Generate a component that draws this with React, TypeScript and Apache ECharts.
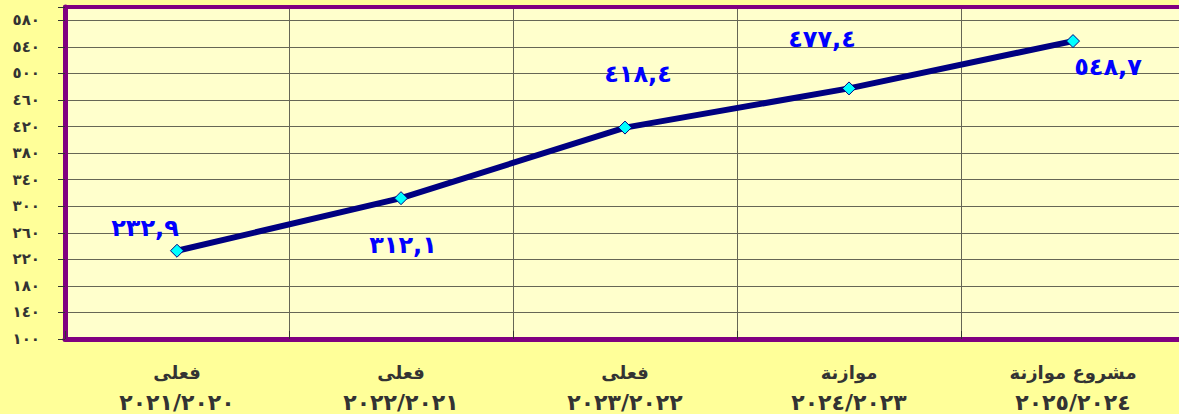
import React, { useEffect, useRef } from "react";
import * as echarts from "echarts";

const categoryNames = ["فعلى", "فعلى", "فعلى", "موازنة", "مشروع موازنة"];
const categoryYears = ["٢٠٢١/٢٠٢٠", "٢٠٢٢/٢٠٢١", "٢٠٢٣/٢٠٢٢", "٢٠٢٤/٢٠٢٣", "٢٠٢٥/٢٠٢٤"];
const seriesValues = [232.9, 312.1, 418.4, 477.4, 548.7];
const yMin = 100;
const yMax = 600;
const yInterval = 40;

const AR_DIGITS = ["٠", "١", "٢", "٣", "٤", "٥", "٦", "٧", "٨", "٩"];
const toArabic = (s: string) => s.replace(/[0-9]/g, (d) => AR_DIGITS[Number(d)]).replace(".", ",");

export default function App() {
  const ref = useRef<HTMLDivElement>(null);
  useEffect(() => {
    if (!ref.current) return;
    const chart = echarts.init(ref.current, undefined, { renderer: "svg" });
    const labelOffsets = [
      [-32, -23],
      [2, 47],
      [13, -54],
      [-27, -49],
      [35, 26],
    ];
    const font = "DejaVu Sans";
    const purple = "#800080";
    const categories = categoryNames.map((n, i) => "{a|" + n + "}\n{b|" + categoryYears[i] + "}");
    chart.setOption({
      animation: false,
      backgroundColor: "#FFFF99",
      grid: {
        left: 65,
        top: 7,
        right: -6,
        bottom: 75,
        outerBoundsMode: "none",
        containLabel: false,
        show: true,
        backgroundColor: "#FFFFCC",
        borderWidth: 0,
        borderColor: "transparent",
      },
      xAxis: [
        {
          type: "category",
          boundaryGap: true,
          data: categories,
          axisLine: { show: true, lineStyle: { color: purple, width: 5 } },
          axisTick: { show: true, inside: true, length: 8, lineStyle: { color: "#333333" } },
          splitLine: { show: true, lineStyle: { color: "#666655", width: 1 } },
          axisLabel: {
            interval: 0,
            margin: 18,
            fontFamily: font,
            fontWeight: "bold",
            fontSize: 19,
            lineHeight: 30,
            color: "#333333",
            rich: {
              a: { fontFamily: font, fontWeight: "bold", fontSize: 18, lineHeight: 30, color: "#333333" },
              b: { fontFamily: font, fontWeight: "bold", fontSize: 22, lineHeight: 30, color: "#333333" },
            },
          },
        },
        {
          type: "category",
          position: "top",
          boundaryGap: true,
          data: categories,
          axisLine: { show: true, lineStyle: { color: purple, width: 4 } },
          axisTick: { show: false },
          axisLabel: { show: false },
          splitLine: { show: false },
        },
      ],
      yAxis: {
        type: "value",
        min: yMin,
        max: yMax,
        interval: yInterval,
        axisLine: { show: true, lineStyle: { color: purple, width: 5 } },
        axisTick: { show: true, inside: false, length: 7, lineStyle: { color: "#333333" } },
        splitLine: { show: true, lineStyle: { color: "#666655", width: 1 } },
        axisLabel: {
          margin: 25,
          fontFamily: font,
          fontWeight: "bold",
          fontSize: 15,
          color: "#333333",
          formatter: (v: number) => (v === yMax ? "" : toArabic(String(v))),
        },
      },
      series: [
        {
          type: "line",
          xAxisIndex: 0,
          yAxisIndex: 0,
          data: seriesValues.map((v, i) => ({
            value: v,
            label: { offset: labelOffsets[i] },
          })),
          lineStyle: { color: "#000080", width: 6 },
          symbol: "diamond",
          symbolSize: 13,
          itemStyle: { color: "#00FFFF", borderColor: "#000080", borderWidth: 1 },
          label: {
            show: true,
            position: "inside",
            fontFamily: font,
            fontWeight: "bold",
            fontSize: 24,
            color: "#0000FF",
            formatter: (p: any) => toArabic(p.value.toFixed(1)),
          },
          z: 5,
        },
      ],
    });
    return () => chart.dispose();
  }, []);
  return (
    <div
      style={{ position: "fixed", left: 0, top: 0, width: 1179, height: 414, overflow: "hidden" }}
    >
      <div ref={ref} style={{ width: 1179, height: 414 }} />
    </div>
  );
}
